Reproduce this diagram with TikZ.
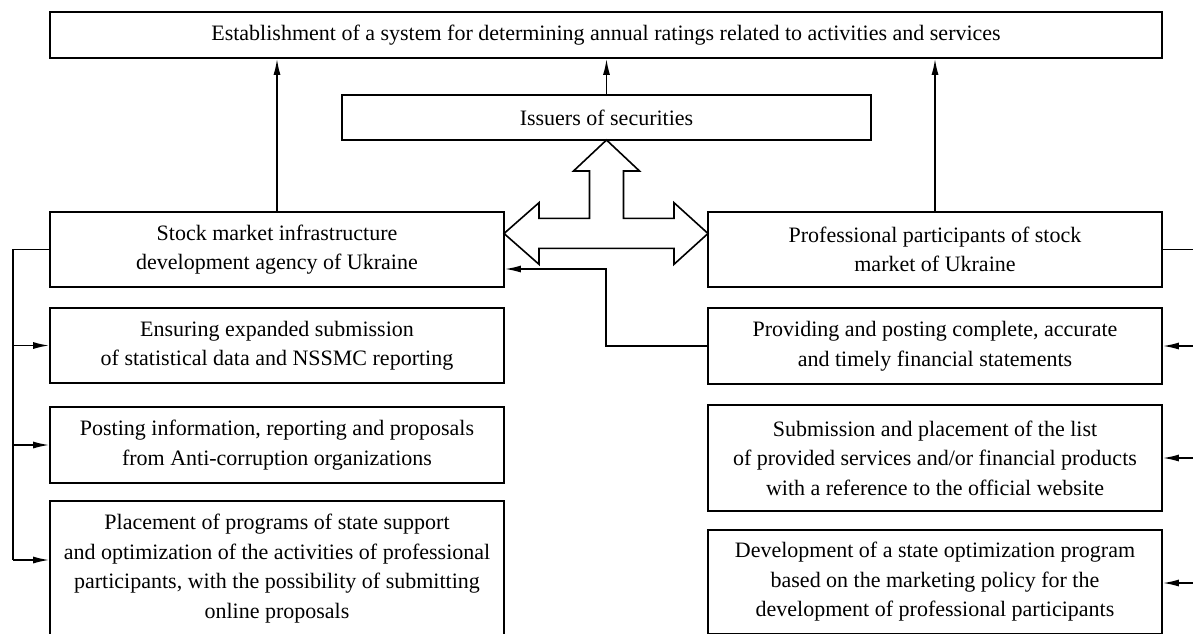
\documentclass[tikz,border=0pt]{standalone}
\usepackage{fontspec}
\setmainfont{Liberation Serif}
\usetikzlibrary{arrows.meta}
\begin{document}
\begin{tikzpicture}[x=1pt,y=-1pt,
  box/.style={draw, line width=1.6pt, align=center, inner sep=0pt,
    font=\fontsize{22}{29.5}\selectfont, minimum width=#1},
  box/.default=454pt,
  wire/.style={line width=1.6pt},
  arr/.style={line width=1.6pt, -{Latex[length=16pt,width=7pt]}},
  bigarrow/.style={draw, line width=1.6pt, fill=white, line join=miter}
]
\useasboundingbox (0,0) rectangle (1193,633);
\clip (0,0) rectangle (1193,633);
\fill[white] (0,0) rectangle (1193,633);

% boxes
\node[box=1112pt, minimum height=46pt] (top) at (606,35)
  {Establishment of a system for determining annual ratings related to activities and services};
\node[box=529pt, minimum height=45pt] (iss) at (606.5,117.5) {Issuers of securities};
\node[box, minimum height=75pt] (stock) at (277,249.5)
  {Stock market infrastructure\\development agency of Ukraine};
\node[box, minimum height=75pt] (prof) at (935,249.5)
  {Professional participants of stock\\market of Ukraine};
\node[box, minimum height=75pt] (ens) at (277,345.5)
  {Ensuring expanded submission\\of statistical data and NSSMC reporting};
\node[box, minimum height=76pt] (post) at (277,445)
  {Posting information, reporting and proposals\\from Anti-corruption organizations};
\node[box, minimum height=135pt] (place) at (277,568.5)
  {Placement of programs of state support\\and optimization of the activities of professional\\participants, with the possibility of submitting\\online proposals};
\node[box, minimum height=76pt] (prov) at (935,346)
  {Providing and posting complete, accurate\\and timely financial statements};
\node[box, minimum height=106pt] (subm) at (935,458)
  {Submission and placement of the list\\of provided services and/or financial products\\with a reference to the official website};
\node[box, minimum height=104pt] (dev) at (935,582)
  {Development of a state optimization program\\based on the marketing policy for the\\development of professional participants};

% arrows to the top box
\draw[arr] (stock.north) -- (stock.north |- top.south);
\draw[arr] (prof.north) -- (prof.north |- top.south);
\draw[arr] (iss.north) -- (iss.north |- top.south);

% left bus
\coordinate (lbus) at (13,560);
\draw[wire] (stock.west) -| (lbus);
\draw[arr] (lbus |- ens.west) -- (ens.west);
\draw[arr] (lbus |- post.west) -- (post.west);
\draw[arr] (lbus) -- (lbus -| place.west);

% right bus (its vertical line lies just beyond the picture's edge)
\coordinate (rbus) at (1200,583);
\draw[wire] (prof.east) -| (rbus);
\draw[arr] (rbus |- prov.east) -- (prov.east);
\draw[arr] (rbus |- subm.east) -- (subm.east);
\draw[arr] (rbus) -- (rbus -| dev.east);

% feedback from financial statements to the agency
\coordinate (fb) at (606,269);
\draw[arr] (prov.west) -| (fb) -- (fb -| stock.east);

% three-headed block arrow
\draw[bigarrow] (606.5,140) -- (639.5,171) -- (623.5,171) -- (623.5,218.3)
  -- (674,218.3) -- (674,202.7) -- (708,233.5) -- (674,264.3) -- (674,248.3)
  -- (539,248.3) -- (539,264.3) -- (504,233.5) -- (539,202.7) -- (539,218.3)
  -- (589.5,218.3) -- (589.5,171) -- (573.5,171) -- cycle;
\end{tikzpicture}
\end{document}
